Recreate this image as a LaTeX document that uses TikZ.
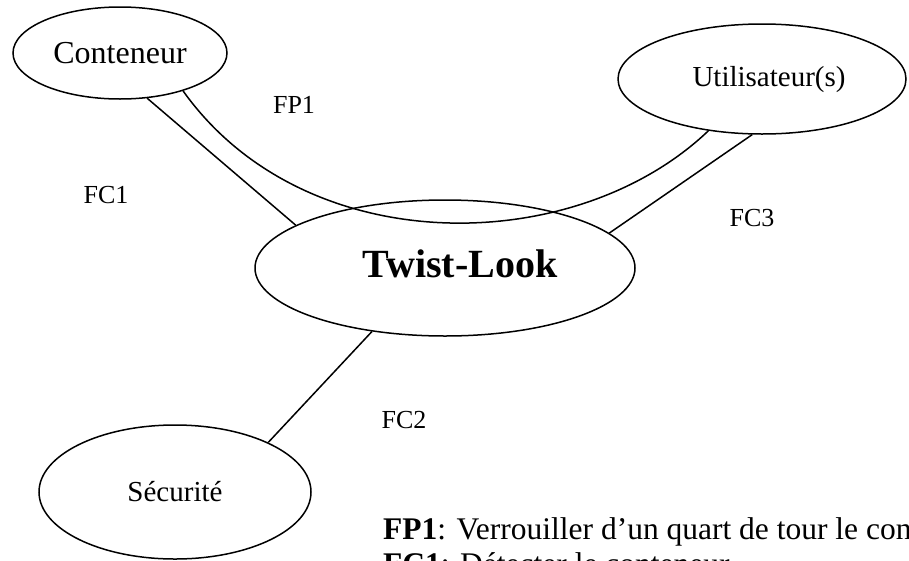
\documentclass[tikz,border=0pt]{standalone}
\usepackage{fontspec}
\setmainfont{Liberation Serif}
\usetikzlibrary{shapes.geometric,positioning}

\tikzset{
  bubble/.style={ellipse, draw, line width=1.5pt, inner sep=0pt},
  link/.style={line width=1.5pt},
  flabel/.style={inner sep=0pt, font=\fontsize{26}{30}\selectfont},
  legend/.style={inner sep=0pt, anchor=base west, font=\fontsize{31.5}{33}\selectfont}
}

\begin{document}
\begin{tikzpicture}[x=1pt,y=1pt,yscale=-1,xscale=1]
\useasboundingbox (0,0) rectangle (909,560);

%Shape: Ellipse
\node [bubble, minimum width=214, minimum height=92, font=\fontsize{32}{36}\selectfont] (conteneur) at (120,53) {Conteneur};
%Shape: Ellipse
\node [bubble, minimum width=288, minimum height=110] (utilisateurs) at (762,79) {};
%Shape: Ellipse
\node [bubble, minimum width=380, minimum height=136] (twist) at (445,268) {};
%Shape: Ellipse
\node [bubble, minimum width=272, minimum height=134, font=\fontsize{29}{33}\selectfont] (securite) at (175,492) {Sécurité};

% Text Node
\node [inner sep=0pt, font=\fontsize{29}{33}\selectfont] (utillbl) at ([xshift=7,yshift=1]utilisateurs.center) {Utilisateur(s)};
% Text Node
\node [inner sep=0pt, font=\fontsize{40}{44}\bfseries] (twistlbl) at ([xshift=15,yshift=-4]twist.center) {Twist-Look};

%Curve Lines
\draw [link] (conteneur.-31) .. controls (305,262) and (575,258) .. (utilisateurs.-136);
%Straight Lines
\draw [link] (conteneur.-59) -- (twist.164);
%Straight Lines
\draw [link] (utilisateurs.-100) -- (twist.12);
%Straight Lines
\draw [link] (twist.-139) -- (securite.28);

% Text Node
\node [flabel] (fp1) at (294,105) {FP1};
% Text Node
\node [flabel] (fc1) at (106,195) {FC1};
% Text Node
\node [flabel] (fc3) at (752,218) {FC3};
% Text Node
\node [flabel] (fc2) at (404,420) {FC2};

% Text Node
\node [legend] (legfp1) at (383,539) {\textbf{FP1}: Verrouiller d’un quart de tour le conteneur};
% Text Node
\node [legend] (legfc1) at ([yshift=35]legfp1.base west) {\textbf{FC1}: Détecter le conteneur};

\end{tikzpicture}
\end{document}
